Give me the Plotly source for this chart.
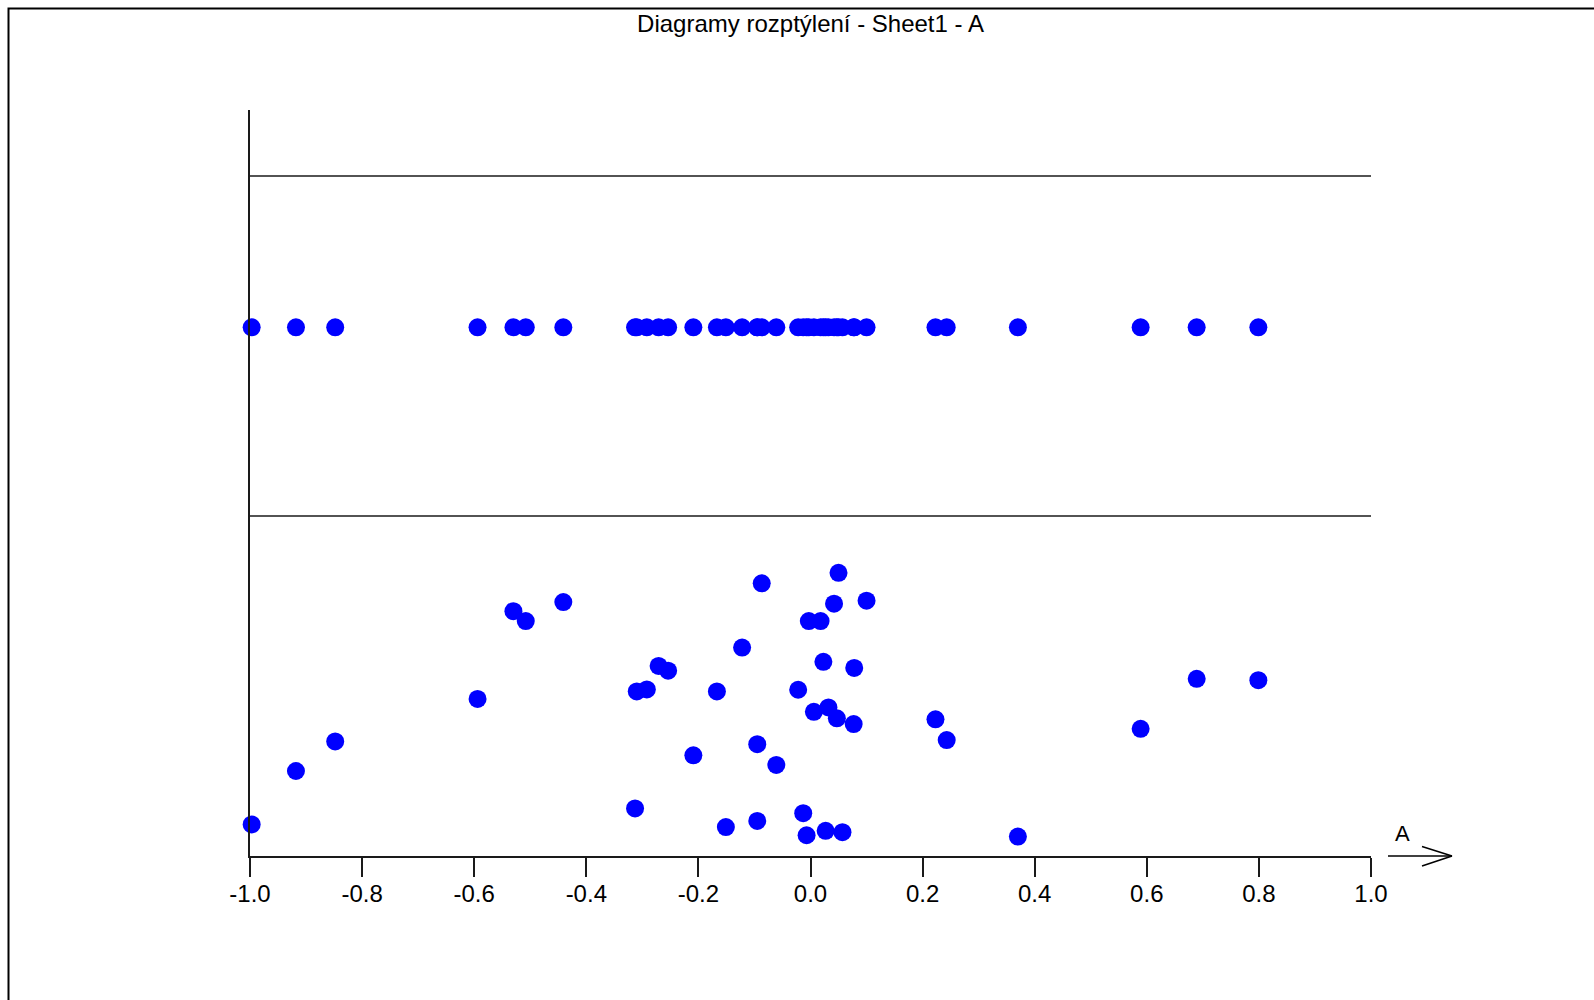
import plotly.graph_objects as go

# ---- data ----
title_text = "Diagramy rozptýlení - Sheet1 - A"
axis_label = "A"

a_values = [
    -0.997, -0.918, -0.848, -0.594, -0.530, -0.508, -0.441, -0.310, -0.292,
    -0.271, -0.254, -0.167, -0.209, -0.313, -0.151,
    -0.087, 0.050, 0.042, 0.100, -0.003, 0.018, -0.122, 0.023, 0.078,
    -0.022, 0.006, 0.032, 0.047, 0.077, -0.095, -0.061, 0.223, 0.243,
    0.589, 0.689, 0.799, -0.095, -0.013, -0.007, 0.027, 0.057, 0.370,
]
jitter = [
    0.093, 0.250, 0.337, 0.462, 0.720, 0.691, 0.747, 0.484, 0.490,
    0.559, 0.545, 0.484, 0.296, 0.140, 0.085,
    0.802, 0.833, 0.742, 0.751, 0.691, 0.691, 0.613, 0.571, 0.553,
    0.489, 0.424, 0.437, 0.405, 0.388, 0.329, 0.268, 0.402, 0.341,
    0.374, 0.521, 0.517, 0.103, 0.126, 0.061, 0.074, 0.070, 0.057,
]
strip_level = 1.555
panel_lines = [1.0, 2.0]
tick_values = [-1.0, -0.8, -0.6, -0.4, -0.2, 0.0, 0.2, 0.4, 0.6, 0.8, 1.0]
tick_labels = ["-1.0", "-0.8", "-0.6", "-0.4", "-0.2", "0.0", "0.2", "0.4", "0.6", "0.8", "1.0"]

# ---- layout geometry (pixels) ----
W, H = 1594, 1000
L, R, T, B = 250, 223, 110, 144
PW, PH = W - L - R, H - T - B

def px_x(px):
    return (px - L) / PW

def px_y(py):
    return (H - B - py) / PH

FONT = "Liberation Sans, Arial, sans-serif"
BLUE = "#0000FF"
LINE = "#1a1a1a"

fig = go.Figure()
fig.add_trace(go.Scatter(
    x=a_values, y=[strip_level] * len(a_values), mode="markers",
    marker=dict(color=BLUE, size=18, line=dict(width=0)),
    showlegend=False, hoverinfo="x", cliponaxis=False,
))
fig.add_trace(go.Scatter(
    x=a_values, y=jitter, mode="markers",
    marker=dict(color=BLUE, size=18, line=dict(width=0)),
    showlegend=False, hoverinfo="x", cliponaxis=False,
))

shapes = []
for yv in panel_lines:
    shapes.append(dict(type="line", xref="x", yref="y", x0=tick_values[0], x1=tick_values[-1],
                       y0=yv, y1=yv, line=dict(color=LINE, width=1.5)))
# outer frame (left and top edges visible)
shapes.append(dict(type="rect", xref="paper", yref="paper",
                   x0=px_x(8.5), x1=px_x(1610), y0=px_y(1015), y1=px_y(8.5),
                   line=dict(color="black", width=2)))
# axis arrow
shapes.append(dict(type="line", xref="paper", yref="paper",
                   x0=px_x(1388), x1=px_x(1452), y0=px_y(856), y1=px_y(856),
                   line=dict(color="black", width=1.5)))
shapes.append(dict(type="line", xref="paper", yref="paper",
                   x0=px_x(1422), x1=px_x(1452), y0=px_y(846.5), y1=px_y(856),
                   line=dict(color="black", width=1.5)))
shapes.append(dict(type="line", xref="paper", yref="paper",
                   x0=px_x(1422), x1=px_x(1452), y0=px_y(866), y1=px_y(856),
                   line=dict(color="black", width=1.5)))

fig.update_layout(
    width=W, height=H,
    margin=dict(l=L, r=R, t=T, b=B, pad=0),
    paper_bgcolor="white", plot_bgcolor="white",
    font=dict(family=FONT, color="black", size=22),
    title=dict(text=title_text, x=0.5, xref="paper", xanchor="center",
               y=1 - 24 / H, yref="container", yanchor="middle",
               font=dict(family=FONT, size=24, color="black")),
    shapes=shapes,
    annotations=[dict(text=axis_label, xref="paper", yref="paper",
                      x=px_x(1402), y=px_y(833), showarrow=False,
                      xanchor="center", yanchor="middle",
                      font=dict(family=FONT, size=22, color="black"))],
    xaxis=dict(range=[-1.0, 1.0], tickmode="array", tickvals=tick_values, ticktext=tick_labels,
               ticks="outside", ticklen=19, tickwidth=1.5, tickcolor=LINE,
               ticklabelstandoff=-4,
               showline=True, linecolor=LINE, linewidth=1.5,
               showgrid=False, zeroline=False,
               tickfont=dict(family=FONT, size=24, color="black")),
    yaxis=dict(range=[0, (H - B - T) / 340.0], showline=True, linecolor=LINE, linewidth=1.5,
               showticklabels=False, ticks="", showgrid=False, zeroline=False),
)

fig.write_html("out.html", config={"displayModeBar": False},
               post_script="document.body.style.margin='0';")
